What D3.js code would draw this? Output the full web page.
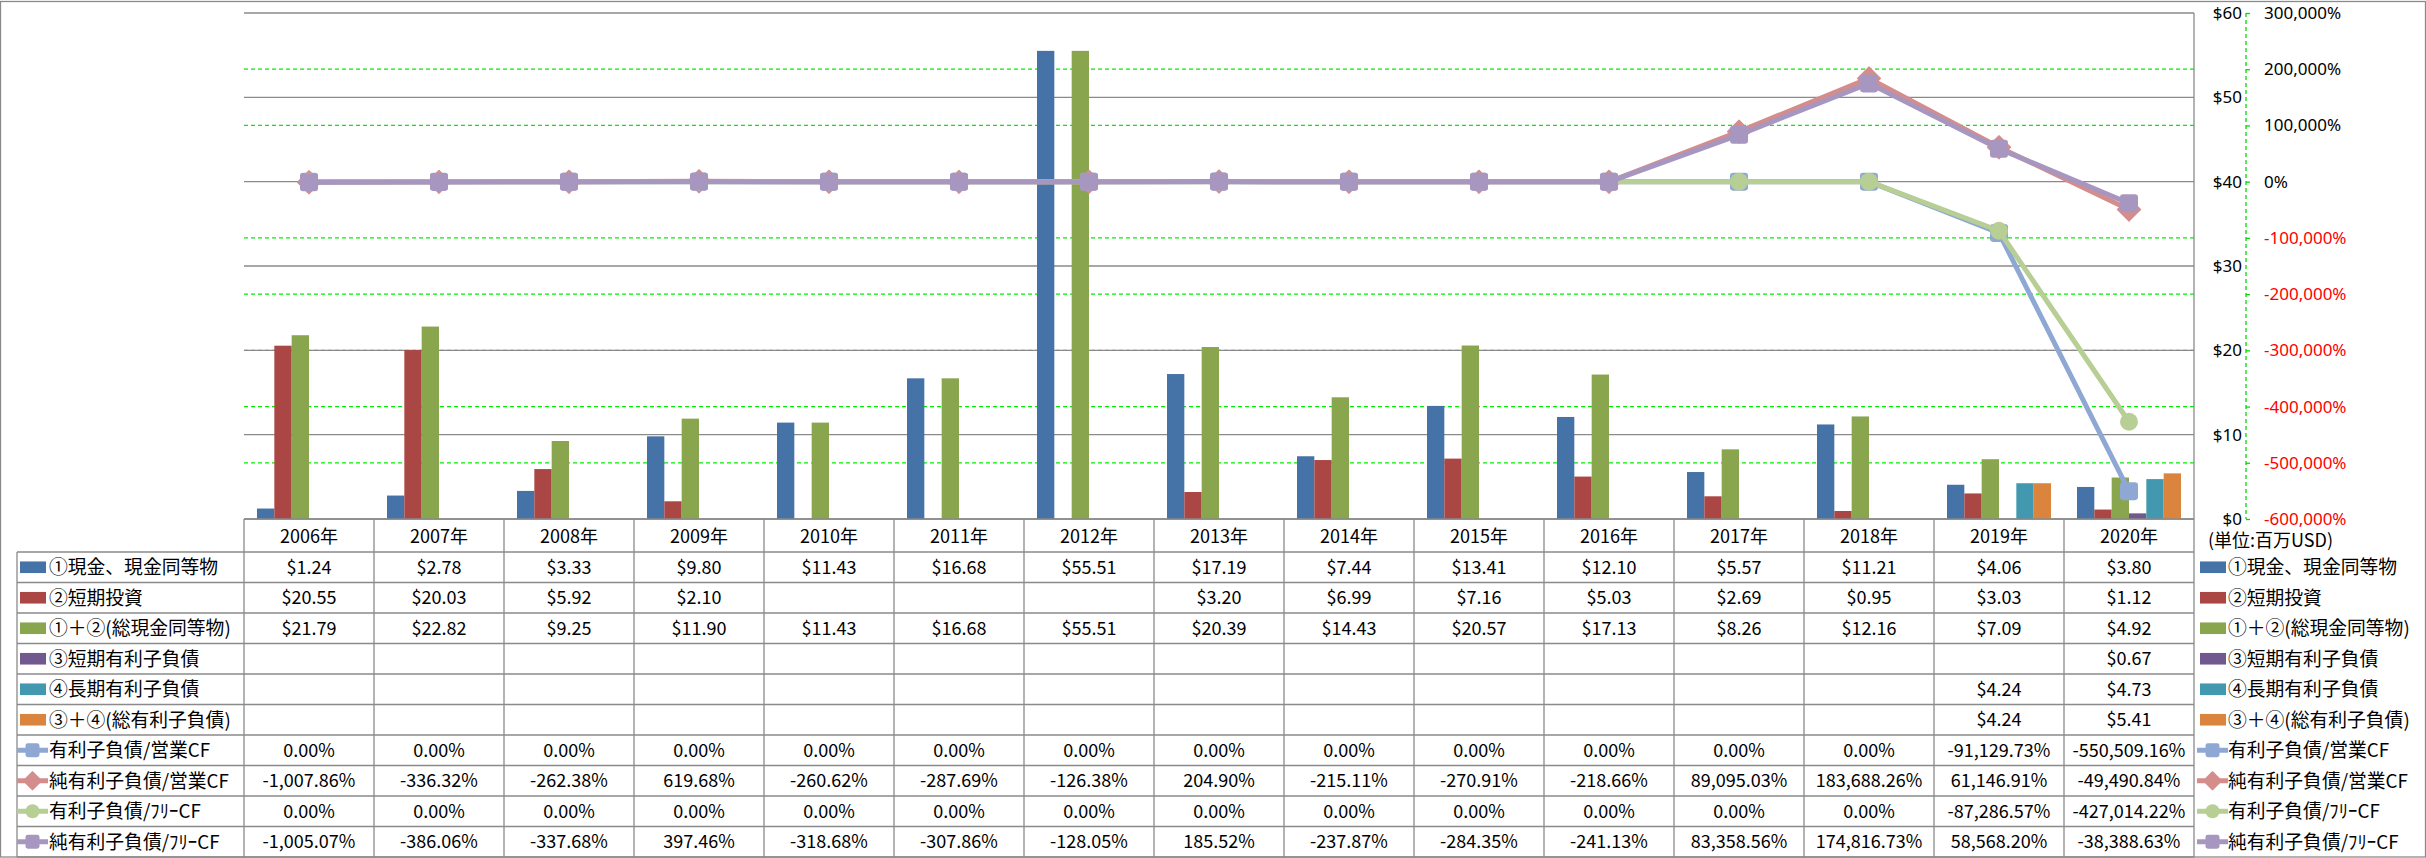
<!DOCTYPE html>
<html><head><meta charset="utf-8">
<script src="https://cdn.jsdelivr.net/npm/d3@7"></script>
<style>
html,body{margin:0;padding:0;background:#fff;}
svg{display:block;font-family:"Noto Sans CJK JP","Noto Sans",sans-serif;}
</style></head>
<body><svg id="c" width="2426" height="858"></svg>
<script>
const years = ["2006年","2007年","2008年","2009年","2010年","2011年","2012年","2013年","2014年","2015年","2016年","2017年","2018年","2019年","2020年"];
const cash      = [1.24,2.78,3.33,9.80,11.43,16.68,55.51,17.19,7.44,13.41,12.10,5.57,11.21,4.06,3.80];
const stInv     = [20.55,20.03,5.92,2.10,null,null,null,3.20,6.99,7.16,5.03,2.69,0.95,3.03,1.12];
const totalCash = [21.79,22.82,9.25,11.90,11.43,16.68,55.51,20.39,14.43,20.57,17.13,8.26,12.16,7.09,4.92];
const stDebt    = [null,null,null,null,null,null,null,null,null,null,null,null,null,null,0.67];
const ltDebt    = [null,null,null,null,null,null,null,null,null,null,null,null,null,4.24,4.73];
const totalDebt = [null,null,null,null,null,null,null,null,null,null,null,null,null,4.24,5.41];
const debtOcf    = [0,0,0,0,0,0,0,0,0,0,0,0,0,-91129.73,-550509.16];
const netDebtOcf = [-1007.86,-336.32,-262.38,619.68,-260.62,-287.69,-126.38,204.90,-215.11,-270.91,-218.66,89095.03,183688.26,61146.91,-49490.84];
const debtFcf    = [0,0,0,0,0,0,0,0,0,0,0,0,0,-87286.57,-427014.22];
const netDebtFcf = [-1005.07,-386.06,-337.68,397.46,-318.68,-307.86,-128.05,185.52,-237.87,-284.35,-241.13,83358.56,174816.73,58568.20,-38388.63];
const leftTicks  = [0,10,20,30,40,50,60];
const rightTicks = [-600000,-500000,-400000,-300000,-200000,-100000,0,100000,200000,300000];
const unitLabel = "(単位:百万USD)";

const barSeries = [
  {name:"①現金、現金同等物", values:cash, color:"#4572A7"},
  {name:"②短期投資", values:stInv, color:"#AA4643"},
  {name:"①＋②(総現金同等物)", values:totalCash, color:"#89A54E"},
  {name:"③短期有利子負債", values:stDebt, color:"#71588F"},
  {name:"④長期有利子負債", values:ltDebt, color:"#4198AF"},
  {name:"③＋④(総有利子負債)", values:totalDebt, color:"#DB843D"}
];
const lineSeries = [
  {name:"有利子負債/営業CF", values:debtOcf, color:"#8FA8D3", marker:"square"},
  {name:"純有利子負債/営業CF", values:netDebtOcf, color:"#D48D8C", marker:"diamond"},
  {name:"有利子負債/ﾌﾘｰCF", values:debtFcf, color:"#B7CE94", marker:"circle"},
  {name:"純有利子負債/ﾌﾘｰCF", values:netDebtFcf, color:"#A797C0", marker:"square"}
];

const loc = d3.formatLocale({decimal:".", thousands:",", grouping:[3], currency:["$",""], minus:"-"});
const fMoney = v => v==null ? "" : "$" + loc.format(",.2f")(v);
const fPct = v => v==null ? "" : loc.format(",.2f")(v) + "%";
const fAxisPct = v => loc.format(",.0f")(v) + "%";

const svg = d3.select("#c");
const L = 244, R = 2194, T = 13, B = 519;
const x = d3.scaleBand().domain(years).range([L,R]).padding(0);
const xs = d3.scaleBand().domain(d3.range(barSeries.length)).range([0,x.bandwidth()]).paddingInner(0).paddingOuter(0.75);
const yL = d3.scaleLinear().domain([0,60]).range([B,T]);
const yR = d3.scaleLinear().domain([-600000,300000]).range([B,T]);
const gridCol = "#8a8a8a";

svg.append("rect").attr("x",0.5).attr("y",1.5).attr("width",2425).attr("height",855.5)
  .attr("fill","#fff").attr("stroke",gridCol).attr("stroke-width",1.3);

// green dashed gridlines; dash pattern starts half a gap in so line ends don't line up into a column
svg.append("g").selectAll("line").data(rightTicks.filter(d=>d!==0 && d!==300000 && d!==-600000)).join("line")
  .attr("x1",L).attr("x2",R).attr("y1",d=>yR(d)).attr("y2",d=>yR(d))
  .attr("stroke","#00EE00").attr("stroke-width",1.3).attr("stroke-dasharray","4,3");
svg.append("g").selectAll("line").data(leftTicks).join("line")
  .attr("x1",L).attr("x2",R).attr("y1",d=>yL(d)).attr("y2",d=>yL(d))
  .attr("stroke",gridCol).attr("stroke-width",1.3);

const gb = svg.append("g");
barSeries.forEach((s,si)=>{
  gb.append("g").selectAll("rect").data(s.values.map((v,i)=>({v,i})).filter(d=>d.v!=null)).join("rect")
    .attr("x",d=>x(years[d.i])+xs(si)).attr("width",xs.bandwidth())
    .attr("y",d=>yL(d.v)).attr("height",d=>yL(0)-yL(d.v)).attr("fill",s.color);
});

function marker(g, type, cx, cy, size, color){
  if(type==="square"){
    g.append("rect").attr("x",cx-size/2).attr("y",cy-size/2).attr("width",size).attr("height",size)
      .attr("rx",size*0.17).attr("fill",color);
  } else if(type==="circle"){
    g.append("circle").attr("cx",cx).attr("cy",cy).attr("r",size/2).attr("fill",color);
  } else {
    const h=size*0.64;
    g.append("path").attr("d",`M${cx},${cy-h}L${cx+h},${cy}L${cx},${cy+h}L${cx-h},${cy}Z`)
      .attr("fill",color).attr("stroke",color).attr("stroke-width",1.2).attr("stroke-linejoin","round");
  }
}

const gl = svg.append("g");
const lineGen = d3.line().x((d,i)=>x(years[i])+x.bandwidth()/2).y(d=>yR(d));
lineSeries.forEach(s=>{
  const g = gl.append("g");
  g.append("path").attr("d",lineGen(s.values)).attr("fill","none").attr("stroke",s.color)
    .attr("stroke-width",5).attr("stroke-linejoin","round");
  s.values.forEach((v,i)=>marker(g, s.marker, x(years[i])+x.bandwidth()/2, yR(v), 18, s.color));
});

svg.append("line").attr("x1",R).attr("x2",R).attr("y1",T).attr("y2",857).attr("stroke",gridCol).attr("stroke-width",1.3);

const AX = 2246;
const axL = svg.append("g").attr("transform",`translate(${AX},0)`)
  .call(d3.axisLeft(yL).tickValues(leftTicks).tickSize(0).tickPadding(4).tickFormat(d=>"$"+d));
axL.select(".domain").remove();
axL.selectAll("text").attr("font-size",17).attr("fill","#000").attr("font-family","'Noto Sans',sans-serif");
const axR = svg.append("g").attr("transform",`translate(${AX},0)`)
  .call(d3.axisRight(yR).tickValues(rightTicks).tickSize(4).tickPadding(14).tickFormat(fAxisPct));
axR.select(".domain").attr("stroke","#00DD00").attr("stroke-width",1.3).attr("stroke-dasharray","4,3").attr("d",`M0,${T}V${B}`);
axR.selectAll(".tick line").attr("stroke","#00DD00").attr("stroke-width",1.3);
axR.selectAll("text").attr("font-size",17).attr("font-family","'Noto Sans',sans-serif")
  .attr("fill",d=>d<0?"#FF0000":"#000");

svg.append("text").attr("x",2208).attr("y",541).attr("dy","0.35em").attr("font-size",18).text(unitLabel);

const H0 = 552, RH = 30.5, TL = 17;
const rows = barSeries.map(s=>({s, type:"bar", fmt:fMoney})).concat(lineSeries.map(s=>({s,type:"line",fmt:fPct})));
const gt = svg.append("g");
gt.selectAll("text.yr").data(years).join("text")
  .attr("x",d=>x(d)+x.bandwidth()/2).attr("y",(B+H0)/2+1).attr("dy","0.35em")
  .attr("text-anchor","middle").attr("font-size",18).text(d=>d);
gt.append("line").attr("x1",L).attr("x2",R).attr("y1",B).attr("y2",B).attr("stroke",gridCol).attr("stroke-width",1.3);
d3.range(rows.length+1).forEach(k=>{
  gt.append("line").attr("x1",TL).attr("x2",R).attr("y1",H0+RH*k).attr("y2",H0+RH*k).attr("stroke",gridCol).attr("stroke-width",1.3);
});
years.forEach(yv=>{
  gt.append("line").attr("x1",x(yv)).attr("x2",x(yv)).attr("y1",B).attr("y2",H0+RH*rows.length).attr("stroke",gridCol).attr("stroke-width",1.3);
});
gt.append("line").attr("x1",TL).attr("x2",TL).attr("y1",H0).attr("y2",H0+RH*rows.length).attr("stroke",gridCol).attr("stroke-width",1.3);

function legendKey(g, row, x0, cy){
  if(row.type==="bar"){
    g.append("rect").attr("x",x0+3).attr("y",cy-5.8).attr("width",26).attr("height",11.6).attr("fill",row.s.color);
  } else {
    g.append("line").attr("x1",x0).attr("x2",x0+31).attr("y1",cy).attr("y2",cy).attr("stroke",row.s.color).attr("stroke-width",5);
    marker(g, row.s.marker, x0+15.5, cy, 14, row.s.color);
  }
}
rows.forEach((row,ri)=>{
  const cy = H0 + RH*(ri+0.5);
  legendKey(gt,row,17,cy);
  gt.append("text").attr("x",49).attr("y",cy).attr("dy","0.36em").attr("font-size",18.8).text(row.s.name);
  legendKey(gt,row,2197,cy);
  gt.append("text").attr("x",2228).attr("y",cy).attr("dy","0.36em").attr("font-size",18.8).text(row.s.name);
  gt.append("g").selectAll("text").data(row.s.values).join("text")
    .attr("x",(d,i)=>x(years[i])+x.bandwidth()/2).attr("y",cy).attr("dy","0.35em")
    .attr("text-anchor","middle").attr("font-size",18).text(d=>row.fmt(d));
});
</script></body></html>
